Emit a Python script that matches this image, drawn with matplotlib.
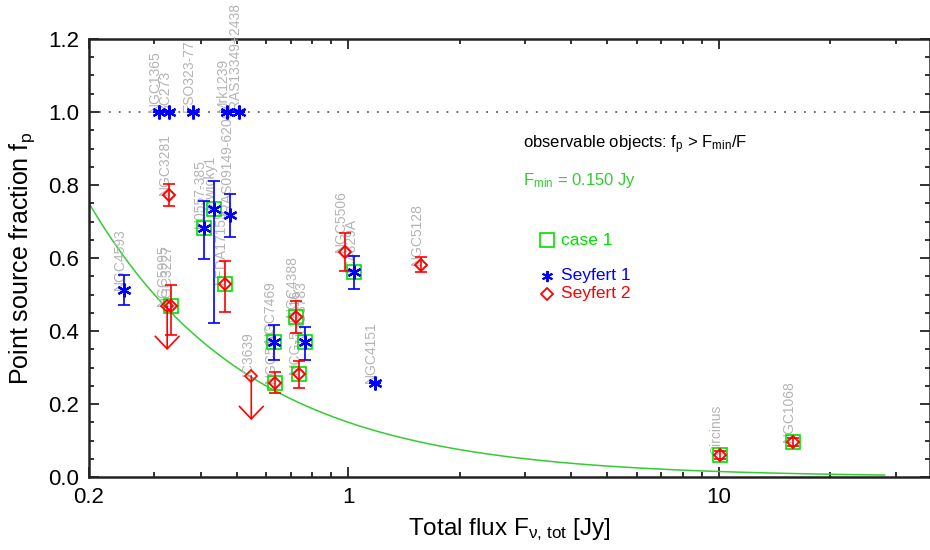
"""
Point source fraction versus total flux
"""
import matplotlib
matplotlib.use('Agg')
import matplotlib.pyplot as plt
import numpy as np
from matplotlib.ticker import FixedLocator, MultipleLocator, NullFormatter, LogLocator

matplotlib.rcParams['font.family'] = ['Liberation Sans', 'DejaVu Sans']
matplotlib.rcParams['mathtext.fontset'] = 'custom'
matplotlib.rcParams['mathtext.rm'] = 'Liberation Sans'
matplotlib.rcParams['mathtext.it'] = 'Liberation Sans'

# Seyfert 1
sy1_names = ['NGC1365', '3C273', 'ESO323-77', 'Mrk1239', 'IRAS13349+2438', 'NGC4593',
             'H0557-385', 'IZwicky1', 'IRAS09149-6206', 'NGC7469', 'NGC3783', 'IC4329A', 'NGC4151']
sy1_flux = [0.308, 0.329, 0.382, 0.472, 0.508, 0.249,
            0.409, 0.435, 0.481, 0.632, 0.766, 1.04, 1.18]
sy1_fp = [1.0, 1.0, 1.0, 1.0, 1.0, 0.512,
          0.682, 0.734, 0.718, 0.370, 0.370, 0.562, 0.258]
sy1_elo = [0, 0, 0, 0, 0, 0.042, 0.085, 0.312, 0.060, 0.049, 0.049, 0.047, 0]
sy1_ehi = [0, 0, 0, 0, 0, 0.042, 0.074, 0.077, 0.057, 0.046, 0.041, 0.043, 0]
sy1_case1 = [False, False, False, False, False, False, True, True, False, True, True, True, False]

# Seyfert 2
sy2_names = ['NGC3281', 'NGC3227', 'LEDA17155', 'NGC5643', 'NGC4388', 'MCG-5-23-16',
             'NGC5506', 'NGC5128', 'Circinus', 'NGC1068']
sy2_flux = [0.329, 0.333, 0.466, 0.634, 0.724, 0.738, 0.981, 1.57, 10.1, 15.8]
sy2_fp = [0.773, 0.468, 0.529, 0.258, 0.438, 0.282, 0.617, 0.582, 0.060, 0.096]
sy2_elo = [0.030, 0.079, 0.077, 0.028, 0.043, 0.038, 0.053, 0.020, 0.010, 0.010]
sy2_ehi = [0.030, 0.058, 0.063, 0.030, 0.044, 0.036, 0.051, 0.020, 0.010, 0.010]
sy2_case1 = [False, True, True, True, True, True, False, False, True, True]

# Seyfert 2 upper limits
lim_names = ['NGC5995', 'IC3639']
lim_flux = [0.325, 0.548]
lim_fp = [0.468, 0.277]
lim_end = [0.348, 0.156]

f_min = 0.150

blue = '#0000ff'
red = '#ff0000'
green = '#00e000'
grey = '#b4b4b4'

fig = plt.figure(figsize=(9.3, 5.5), dpi=100)
ax = fig.add_axes([89 / 930, 1 - 477 / 550, 840.5 / 930, 438 / 550])
ax.set_xscale('log')
ax.set_xlim(0.2, 37)
ax.set_ylim(0.0, 1.2)

ax.axhline(1.0, color='#606060', lw=1.3, ls=(0, (1, 4.5)), zorder=1)

# detection limit curve
xx = np.logspace(np.log10(0.2), np.log10(28), 200)
ax.plot(xx, f_min / xx, color='#33cc33', lw=1.1, zorder=2)

# labels
for n, x, y in zip(sy1_names + sy2_names + lim_names,
                   sy1_flux + sy2_flux + lim_flux,
                   sy1_fp + sy2_fp + lim_fp):
    ax.text(x, y, n, rotation=90, rotation_mode='anchor', ha='left', va='baseline',
            color=grey, fontsize=10, zorder=3,
            transform=ax.transData)

# case 1 squares
cx = [f for f, c in zip(sy1_flux + sy2_flux, sy1_case1 + sy2_case1) if c]
cy = [f for f, c in zip(sy1_fp + sy2_fp, sy1_case1 + sy2_case1) if c]
ax.plot(cx, cy, 's', ms=10, mfc='none', mec=green, mew=1.2, zorder=4)

# error bars
ax.errorbar(sy1_flux, sy1_fp, yerr=[sy1_elo, sy1_ehi], fmt='none', ecolor=blue,
            elinewidth=1.2, capsize=4.5, capthick=1.2, zorder=5)
ax.errorbar(sy2_flux, sy2_fp, yerr=[sy2_elo, sy2_ehi], fmt='none', ecolor=red,
            elinewidth=1.2, capsize=4.5, capthick=1.2, zorder=5)

# upper limits
for x, y, e in zip(lim_flux, lim_fp, lim_end):
    ax.annotate('', xy=(x, e), xytext=(x, y),
                arrowprops=dict(arrowstyle='->, head_length=0.45, head_width=0.43',
                                mutation_scale=20, color=red, lw=1.2,
                                shrinkA=0, shrinkB=0), zorder=5)
ax.plot(lim_flux, lim_fp, 'D', ms=6, mfc='none', mec=red, mew=1.2, zorder=6)

ax.plot(sy1_flux, sy1_fp, ls='none', marker=(6, 2, 0), ms=10, mec=blue, mew=1.6, zorder=6)
ax.plot(sy2_flux, sy2_fp, 'D', ms=6, mfc='none', mec=red, mew=1.4, zorder=6)

# legend / annotations
ax.text(0.516, 0.758, r'observable objects: f$_\mathrm{p}$ > F$_\mathrm{min}$/F',
        transform=ax.transAxes, fontsize=12, va='center', ha='left')
ax.text(0.516, 0.678, r'F$_\mathrm{min}$ = 0.150 Jy', transform=ax.transAxes,
        fontsize=12, va='center', ha='left', color='#33cc33')
ax.plot([0.545], [0.541], 's', ms=10, mfc='none', mec=green, mew=1.2, transform=ax.transAxes)
ax.text(0.5616, 0.541, 'case 1', transform=ax.transAxes, fontsize=12.5, va='center', color=green)
ax.plot([0.545], [0.459], ls='none', marker=(6, 2, 0), ms=8, mec=blue, mew=1.4,
        transform=ax.transAxes)
ax.text(0.5616, 0.459, 'Seyfert 1', transform=ax.transAxes, fontsize=12.5, va='center', color=blue)
ax.plot([0.545], [0.418], 'D', ms=6, mfc='none', mec=red, mew=1.3, transform=ax.transAxes)
ax.text(0.5616, 0.418, 'Seyfert 2', transform=ax.transAxes, fontsize=12.5, va='center', color=red)

# ticks
ax.xaxis.set_major_locator(FixedLocator([0.2, 1, 10]))
ax.set_xticklabels(['0.2', '1', '10'])
ax.xaxis.set_minor_locator(LogLocator(base=10, subs=np.arange(2, 10)))
ax.xaxis.set_minor_formatter(NullFormatter())
ax.yaxis.set_major_locator(MultipleLocator(0.2))
ax.yaxis.set_minor_locator(MultipleLocator(0.05))
ax.yaxis.set_major_formatter(matplotlib.ticker.FormatStrFormatter('%.1f'))
ax.tick_params(which='both', direction='in', top=True, right=True, width=1.3, color='#222222',
               labelsize=16)
ax.tick_params(which='major', length=7.5, pad=7)
ax.tick_params(which='minor', length=3.6)
for s in ax.spines.values():
    s.set_linewidth(1.8)
    s.set_color('#222222')

ax.set_xlabel(r'Total flux F$_{\nu,\,\mathrm{tot}}$ [Jy]', fontsize=17.5, labelpad=6)
ax.set_ylabel(r'Point source fraction f$_\mathrm{p}$', fontsize=18, labelpad=8)

fig.savefig('out.png', dpi=100)
